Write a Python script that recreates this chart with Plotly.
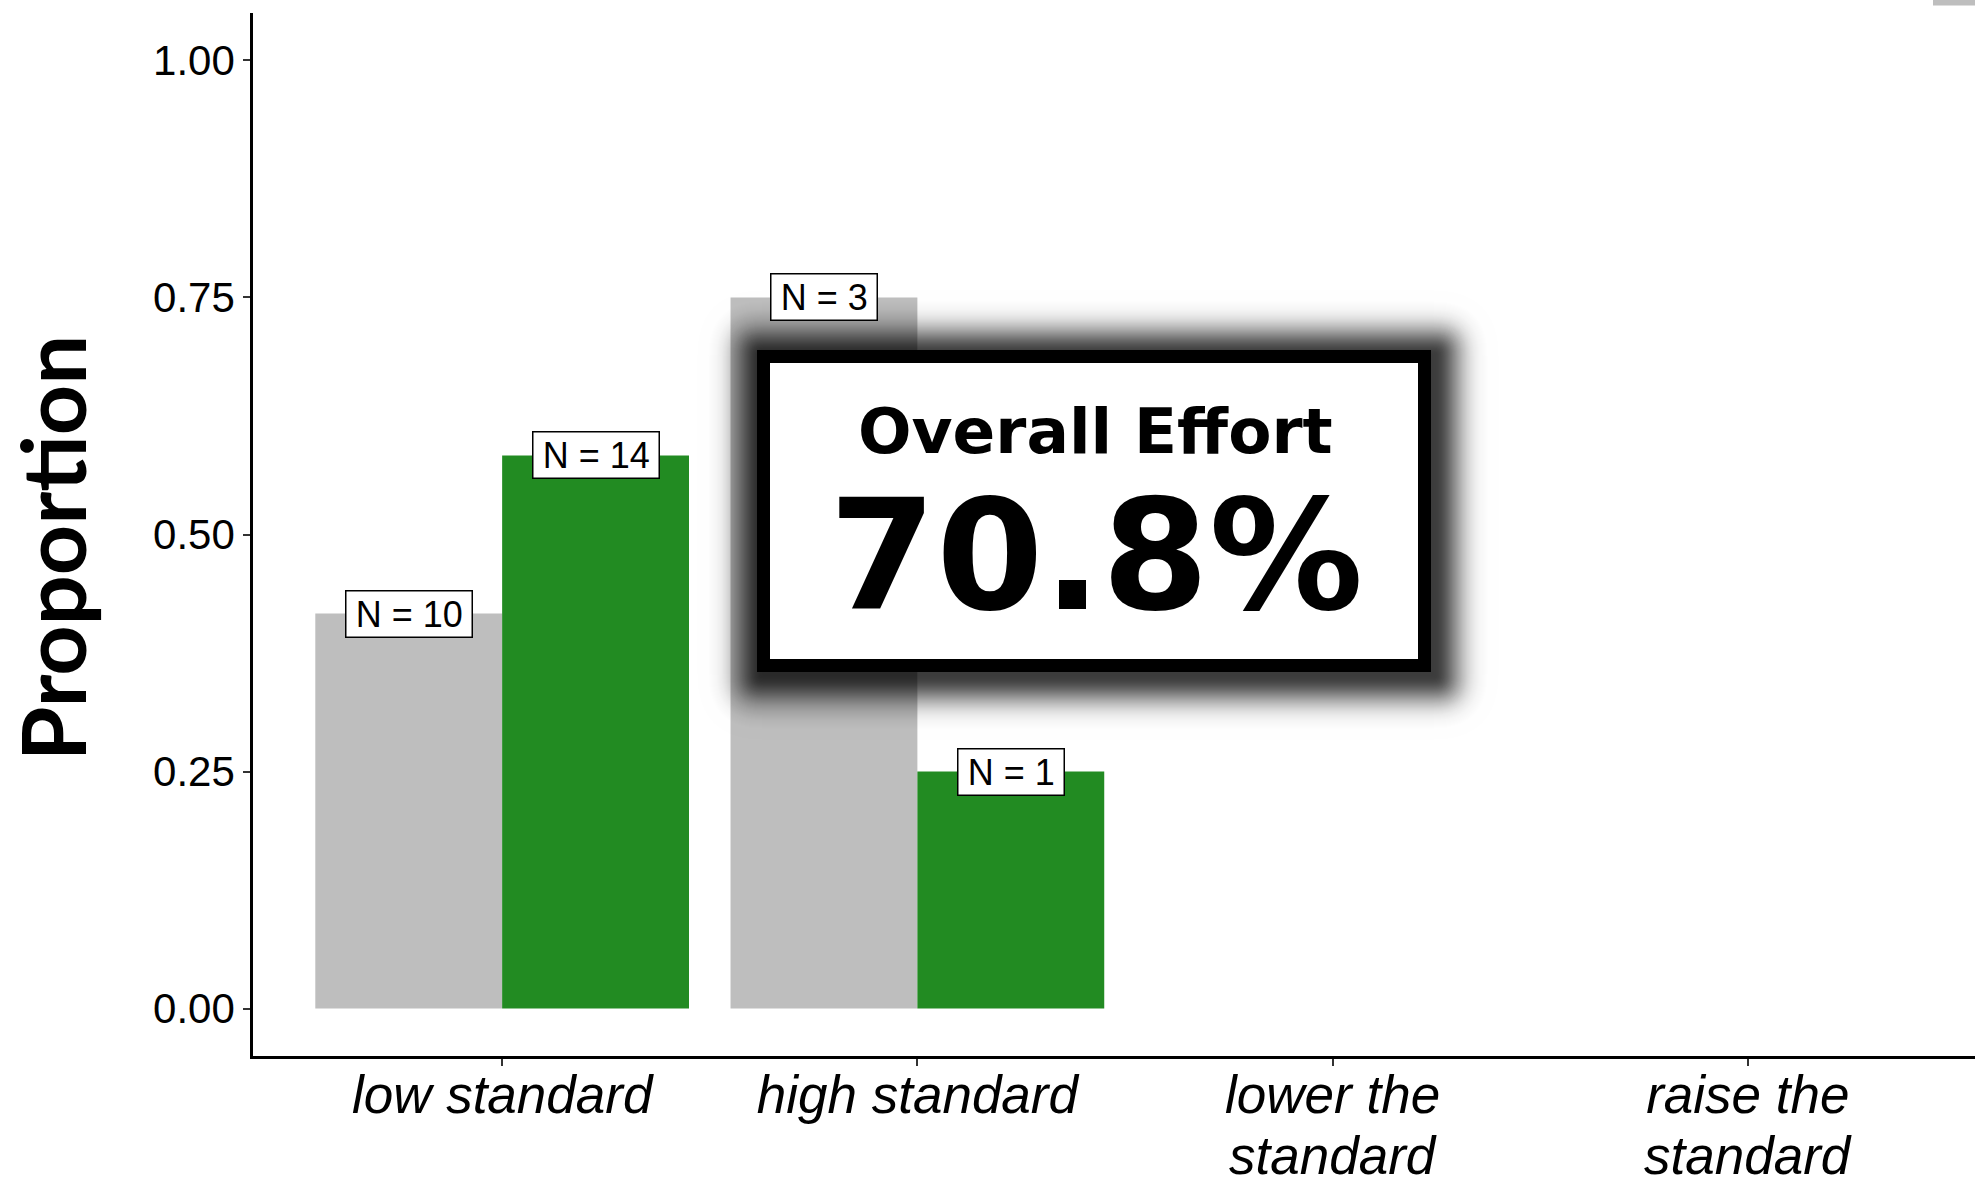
import math
import plotly.graph_objects as go

# ---- data ----
categories = ["low standard", "high standard", "lower the standard", "raise the standard"]
tick_first_line = ["low standard", "high standard", "lower the", "raise the"]
tick_second_line = ["", "", "standard", "standard"]
bar_categories = ["low standard", "high standard"]
gray_counts = [10, 3]
green_counts = [14, 1]
y_ticks = [0, 0.25, 0.5, 0.75, 1.0]
y_tick_text = ["0.00", "0.25", "0.50", "0.75", "1.00"]
overall_label = "Overall Effort"
overall_value = "70.8%"

totals = [a + b for a, b in zip(gray_counts, green_counts)]
gray_props = [n / t for n, t in zip(gray_counts, totals)]
green_props = [n / t for n, t in zip(green_counts, totals)]

GRAY = "#BEBEBE"
GREEN = "#228B22"
SANS = "Liberation Sans, Arial, Helvetica, sans-serif"

W, H = 1975, 1182
L, R, T, B = 253, 1975, 13, 1056


def px(x):
    return (x - L) / (R - L)


def py(y):
    return (B - y) / (B - T)


fig = go.Figure()
fig.add_trace(go.Bar(x=bar_categories, y=gray_props, marker=dict(color=GRAY, line=dict(width=0)),
                     showlegend=False, hoverinfo="skip"))
fig.add_trace(go.Bar(x=bar_categories, y=green_props, marker=dict(color=GREEN, line=dict(width=0)),
                     showlegend=False, hoverinfo="skip"))

annotations = []
# count labels sitting on top of each bar
half = 0.225
thin = "\u2009"
for i, cat in enumerate(bar_categories):
    idx = categories.index(cat)
    for off, prop, n in ((-half, gray_props[i], gray_counts[i]), (half, green_props[i], green_counts[i])):
        annotations.append(dict(
            x=idx + off, y=prop, xref="x", yref="y", text=f"{thin}N = {n}{thin}", showarrow=False,
            xanchor="center", yanchor="middle",
            font=dict(family=SANS, size=36, color="black"),
            bgcolor="white", bordercolor="black", borderwidth=1.5, borderpad=2,
        ))

# second line of the wrapped category labels
for idx, line in enumerate(tick_second_line):
    if line:
        annotations.append(dict(
            x=idx, y=0, xref="x", yref="paper", yshift=-(H - B) - 5, text=line, showarrow=False,
            xanchor="center", yanchor="bottom",
            font=dict(family=SANS, size=53, color="black", style="italic"),
        ))

# y-axis title
annotations.append(dict(
    x=px(52), y=py(548), xref="paper", yref="paper", text="<b>Proportion</b>", textangle=-90,
    showarrow=False, xanchor="center", yanchor="middle",
    font=dict(family="Lato, sans-serif", size=88, color="black"),
))

# callout box text
annotations.append(dict(
    x=px(1095), y=py(432), xref="paper", yref="paper", text=f"<b>{overall_label}</b>",
    showarrow=False, xanchor="center", yanchor="middle",
    font=dict(family="DejaVu Sans, sans-serif", size=63, color="black"),
))
annotations.append(dict(
    x=px(1096), y=py(555), xref="paper", yref="paper", text=f"<b>{overall_value}</b>",
    showarrow=False, xanchor="center", yanchor="middle",
    font=dict(family="DejaVu Sans, sans-serif", size=154, color="black"),
))


def rounded_rect(x0, y0, x1, y1, r):
    pts = [
        ("M", (x0 + r, y0)), ("L", (x1 - r, y0)), ("Q", (x1, y0), (x1, y0 + r)),
        ("L", (x1, y1 - r)), ("Q", (x1, y1), (x1 - r, y1)), ("L", (x0 + r, y1)),
        ("Q", (x0, y1), (x0, y1 - r)), ("L", (x0, y0 + r)), ("Q", (x0, y0), (x0 + r, y0)),
    ]
    out = []
    for cmd, *coords in pts:
        out.append(cmd + " " + " ".join(f"{px(cx):.5f},{py(cy):.5f}" for cx, cy in coords))
    return " ".join(out) + " Z"


shapes = []
# soft drop shadow behind the callout box (stacked translucent layers)
bx0, bx1, by0, by1 = 757, 1431, 350, 672
dx, dy = 4, 4
spread = 64
dmax, sigma = 0.72, 27.0
prev_t = 1.0
for e in range(spread, -1, -1):
    dark = dmax * math.exp(-(e / sigma) ** 2)
    t = 1 - dark
    a = 1 - t / prev_t
    prev_t = t
    if a <= 0.0008:
        continue
    shapes.append(dict(
        type="path", xref="paper", yref="paper", layer="above",
        path=rounded_rect(bx0 - e + dx, by0 - e + dy, bx1 + e + dx, by1 + e + dy, e + 2),
        fillcolor=f"rgba(0,0,0,{a:.4f})", line=dict(width=0),
    ))
# white box with thick black frame
bw = 13
shapes.append(dict(
    type="rect", xref="paper", yref="paper", layer="above",
    x0=px(bx0 + bw / 2), x1=px(bx1 - bw / 2), y0=py(by1 - bw / 2), y1=py(by0 + bw / 2),
    fillcolor="white", line=dict(color="black", width=bw),
))
# clipped legend key at the top-right edge
shapes.append(dict(
    type="rect", xref="paper", yref="paper", layer="above",
    x0=px(1933), x1=px(1975), y0=py(5.5), y1=py(-2),
    fillcolor=GRAY, line=dict(width=0),
))

fig.update_layout(
    width=W, height=H,
    margin=dict(l=L, r=W - R, t=T, b=H - B, pad=0, autoexpand=False),
    paper_bgcolor="white", plot_bgcolor="white",
    barmode="group", bargap=0.1, bargroupgap=0,
    showlegend=False,
    annotations=annotations, shapes=shapes,
    xaxis=dict(
        type="category", categoryorder="array", categoryarray=categories,
        tickvals=categories, ticktext=tick_first_line, range=[-0.6, 3.547],
        showline=True, linecolor="black", linewidth=2.5, showgrid=False, zeroline=False,
        ticks="outside", ticklen=7, tickwidth=2, tickcolor="#333333", automargin=False,
        ticklabelstandoff=-16,
        tickfont=dict(family=SANS, size=53, color="black", style="italic"),
    ),
    yaxis=dict(
        range=[-0.05, 1.05], tickvals=y_ticks, ticktext=y_tick_text,
        showline=True, linecolor="black", linewidth=2.5, showgrid=False, zeroline=False,
        ticks="outside", ticklen=7, tickwidth=2, tickcolor="#333333", automargin=False,
        tickfont=dict(family=SANS, size=42, color="black"),
    ),
)

fig.write_html("out.html")
